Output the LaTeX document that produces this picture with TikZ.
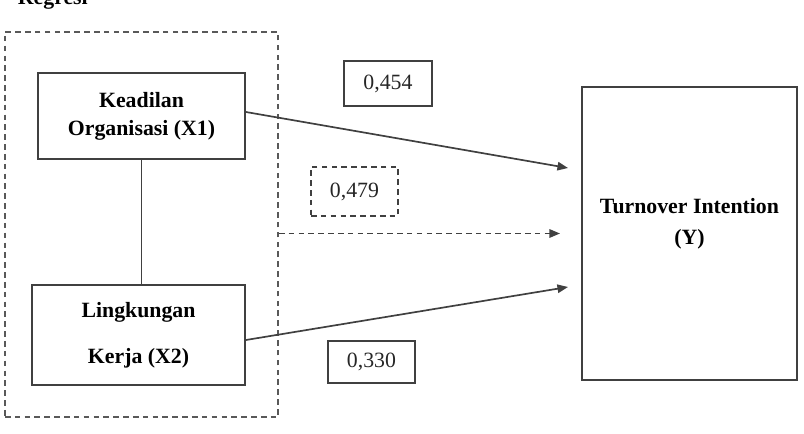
\documentclass[tikz,border=0pt]{standalone}
\usepackage{fontspec}
\setmainfont{Liberation Serif}
\usetikzlibrary{arrows.meta, positioning}

\begin{document}
\begin{tikzpicture}[
    x=0.025cm, y=-0.025cm,
    >={Triangle[length=7.5pt, width=6pt]},
    every node/.style={font=\fontsize{15.5}{20}\selectfont},
    varbox/.style={draw=black!75, line width=1.3pt, align=center,
                   font=\fontsize{15.5}{20}\selectfont\bfseries},
    coefbox/.style={draw=black!75, line width=1.3pt, minimum width=2.175cm,
                    text=black!85},
    link/.style={draw=black!75, line width=1.2pt},
    dashline/.style={dash pattern=on 4pt off 3pt}
  ]
  \useasboundingbox (0,0) rectangle (804,434);

  \node[anchor=base west, font=\fontsize{15.5}{20}\selectfont\bfseries]
    (title) at (13,4) {Regresi};

  % independent variables
  \node[draw=black!65, dashline, line width=1.2pt, minimum width=6.825cm,
        minimum height=9.625cm] (grp) at (141.5,224.5) {};
  \node[varbox, minimum width=5.175cm, minimum height=2.15cm]
    (x1) at (141.5,116) {Keadilan\\Organisasi (X1)};
  \node[varbox, minimum width=5.325cm, minimum height=2.5cm]
    (x2) at (138.5,335) {Lingkungan\\[13pt]Kerja (X2)};

  % dependent variable
  \node[varbox, minimum width=5.375cm, minimum height=7.325cm,
        label={[yshift=0.25cm, align=center,
                font=\fontsize{15.5}{22}\selectfont\bfseries]center:Turnover Intention\\(Y)}]
    (yv) at (689.5,233.5) {};

  % coefficients
  \node[coefbox, minimum width=2.2cm, minimum height=1.125cm]
    (c1) at (388,83.5) {0,454};
  \node[coefbox, dashline, minimum height=1.225cm]
    (c3) at (354.5,191.5) {0,479};
  \node[coefbox, minimum height=1.05cm]
    (c2) at (371.5,362) {0,330};

  \coordinate (t1) at (568,168);
  \coordinate (t2) at (568,287);
  \coordinate (t3) at (560,233.5);

  \draw[link] (x1.south) -- (x1.south |- x2.north);
  \draw[link, ->] ([yshift=0.1cm]x1.east) -- (t1);
  \draw[link, ->] ([yshift=-0.125cm]x2.east) -- (t2);
  \draw[link, dashline, ->] (grp.east |- t3) -- (t3);
\end{tikzpicture}
\end{document}
